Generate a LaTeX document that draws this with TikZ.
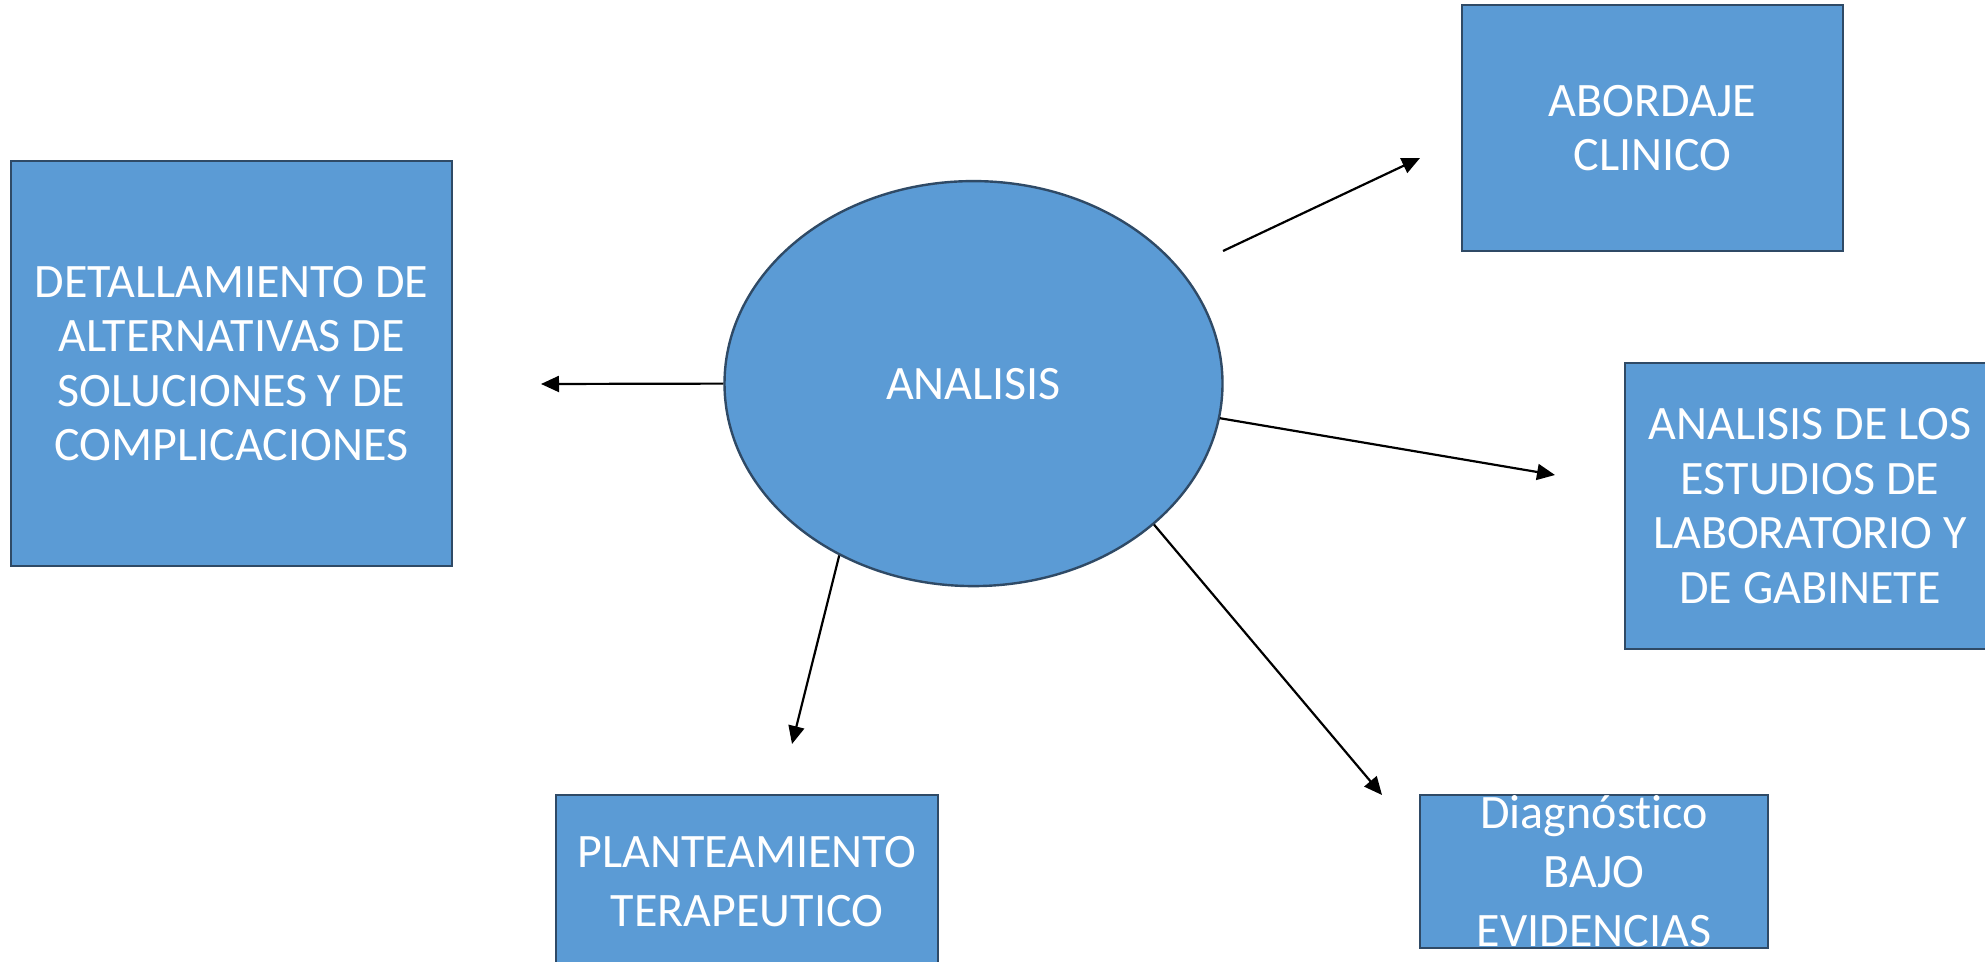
\documentclass[tikz,border=0pt]{standalone}
\usepackage{fontspec}
\setmainfont{Carlito}[Ligatures=NoCommon]
\usetikzlibrary{shapes.geometric,arrows.meta}
\definecolor{boxfill}{HTML}{5B9BD5}
\definecolor{boxline}{HTML}{2F4A66}
\tikzset{
  shp/.style={fill=boxfill,draw=boxline,line width=1.2pt,text=white,align=center,inner sep=0pt,
    font=\fontsize{24pt}{27.3pt}\selectfont},
  rbox/.style={shp,rectangle},
  wide/.style={font=\fontsize{24pt}{29.5pt}\selectfont},
  conn/.style={line width=1.1pt,-{Triangle[length=9pt,width=8pt]}}
}
\begin{document}
\begin{tikzpicture}[x=0.5pt,y=-0.5pt]
\useasboundingbox (0,0) rectangle (1985,962);
\fill[white] (0,0) rectangle (1985,962);
\node[shp,ellipse,minimum width=249pt,minimum height=202.5pt] (an) at (973.5,383.6) {ANALISIS};
\node[rbox,minimum width=220.5pt,minimum height=202.5pt] (det) at (231.5,363.5)
  {DETALLAMIENTO DE\\ALTERNATIVAS DE\\SOLUCIONES Y DE\\COMPLICACIONES};
\node[rbox,minimum width=190.5pt,minimum height=123pt] (abo) at (1652.5,128) {ABORDAJE\\CLINICO};
\node[rbox,minimum width=185pt,minimum height=143pt] (lab) at (1810,506)
  {ANALISIS DE LOS\\ESTUDIOS DE\\LABORATORIO Y\\DE GABINETE};
\node[rbox,minimum width=174pt,minimum height=76.5pt] (dia) at (1594,871.5) {};
\node[shp,wide,fill=none,draw=none] (diat) at (dia.center) {Diagnóstico\\BAJO\\EVIDENCIAS};
\node[rbox,wide,minimum width=191pt,minimum height=86.5pt] (pla) at (747,881.5) {PLANTEAMIENTO\\TERAPEUTICO};
\coordinate (tdet) at (541,384);
\coordinate (sabo) at (1223,251);
\coordinate (tabo) at (1420,158);
\coordinate (tlab) at (1555,475);
\coordinate (tdia) at (1382,795);
\coordinate (tpla) at (792,744);
\draw[conn] (an.west) -- (tdet);
\draw[conn] (sabo) -- (tabo);
\draw[conn] (an.-8.1) -- (tlab);
\draw[conn] (an.-38.7) -- (tdia);
\draw[conn] (an.232.7) -- (tpla);
\end{tikzpicture}
\end{document}
